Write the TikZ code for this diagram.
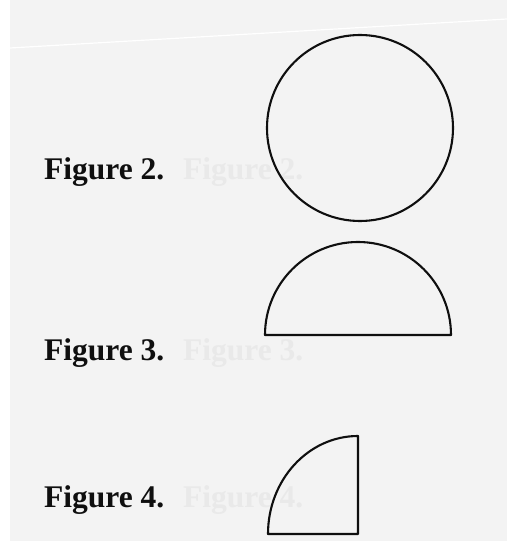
\documentclass[tikz,border=0pt]{standalone}
\usepackage{fontspec}
\setmainfont{Liberation Serif}
\definecolor{paper}{gray}{0.952}
\definecolor{ghost}{gray}{0.915}
\definecolor{ink}{gray}{0.06}
\begin{document}
\begin{tikzpicture}[x=1pt,y=1pt,
  outline/.style={draw=ink,line width=2.1pt,line join=round,line cap=round},
  figlabel/.style={anchor=base west,inner sep=0pt,font=\fontsize{31.5}{36}\selectfont\bfseries,text=ink},
  ghostlabel/.style={figlabel,text=ghost}]
\useasboundingbox (0,0) rectangle (507,544);
% paper
\fill[white] (0,0) rectangle (507,544);
\fill[paper] (10,3) rectangle (507,544);
\draw[white,line width=1.2pt] (10,496) -- (507,525);
% texts
\node[figlabel] (t2) at (44,364) {Figure 2.};
\node[ghostlabel] (g2) at (183,364) {Figure 2.};
\node[figlabel] (t3) at (44,183) {Figure 3.};
\node[ghostlabel] (g3) at (183,183) {Figure 3.};
\node[figlabel] (t4) at (44,36) {Figure 4.};
\node[ghostlabel] (g4) at (183,36) {Figure 4.};
% Figure 2: circle
\draw[outline] (360,416) circle[radius=93];
% Figure 3: semicircle
\draw[outline] (265,209) arc[start angle=180,end angle=0,radius=93] -- cycle;
% Figure 4: quarter circle
\draw[outline] (268,10) arc[start angle=180,end angle=90,x radius=90,y radius=98] -- (358,108) -- (358,10) -- cycle;
\end{tikzpicture}
\end{document}
